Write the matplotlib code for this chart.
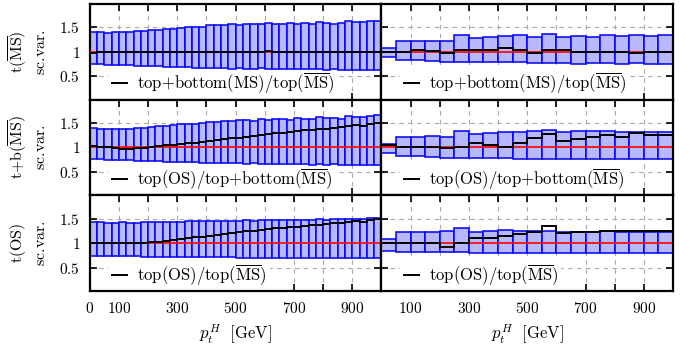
import numpy as np
import matplotlib
matplotlib.use('Agg')
import matplotlib.pyplot as plt
from matplotlib.ticker import FixedLocator, FixedFormatter

plt.rcParams['mathtext.fontset'] = 'cm'
plt.rcParams['font.family'] = 'serif'
plt.rcParams['font.serif'] = ['DejaVu Serif']

# binning
edges_left = np.arange(0, 1001, 25)     # 40 bins
edges_right = np.arange(0, 1001, 50)    # 20 bins

# ---- row 1: t(MSbar) scale variation ----
r1l_up = [1.40, 1.40, 1.39, 1.40, 1.41, 1.40, 1.42, 1.43, 1.44, 1.45, 1.46, 1.47, 1.48, 1.50, 1.50, 1.51, 1.54, 1.55, 1.55, 1.57,
          1.55, 1.56, 1.57, 1.56, 1.58, 1.57, 1.56, 1.59, 1.57, 1.58, 1.57, 1.60, 1.58, 1.57, 1.59, 1.63, 1.60, 1.61, 1.62, 1.63]
r1l_lo = [0.74, 0.74, 0.73, 0.73, 0.72, 0.72, 0.71, 0.71, 0.70, 0.70, 0.69, 0.69, 0.68, 0.68, 0.67, 0.67, 0.67, 0.66, 0.66, 0.65,
          0.66, 0.65, 0.65, 0.66, 0.65, 0.64, 0.65, 0.64, 0.65, 0.64, 0.64, 0.64, 0.63, 0.64, 0.63, 0.63, 0.63, 0.62, 0.63, 0.62]
r1l_c = [0.97, 1.00, 1.00, 1.00, 1.00, 1.00, 1.00, 1.00, 1.00, 1.00, 1.00, 1.00, 1.00, 1.00, 1.00, 1.00, 1.00, 1.00, 1.00, 1.00,
         1.00, 1.00, 1.00, 1.00, 1.01, 1.00, 1.00, 1.00, 1.00, 1.00, 1.00, 1.00, 1.00, 1.00, 1.00, 1.00, 0.99, 1.00, 1.00, 1.00]
r1r_up = [1.08, 1.22, 1.22, 1.23, 1.23, 1.35, 1.29, 1.31, 1.32, 1.34, 1.31, 1.36, 1.31, 1.32, 1.31, 1.35, 1.32, 1.35, 1.32, 1.35]
r1r_lo = [0.90, 0.83, 0.83, 0.82, 0.80, 0.80, 0.78, 0.78, 0.78, 0.78, 0.76, 0.76, 0.76, 0.75, 0.76, 0.76, 0.75, 0.76, 0.75, 0.75]
r1r_c = [1.00, 1.00, 1.03, 1.02, 0.97, 1.03, 1.03, 1.03, 1.07, 1.03, 0.97, 1.03, 1.03, 1.00, 1.00, 1.00, 1.00, 0.98, 1.00, 1.00]

# ---- row 2: t+b(MSbar) scale variation ----
r2l_up = [1.39, 1.38, 1.37, 1.37, 1.38, 1.38, 1.39, 1.40, 1.42, 1.43, 1.44, 1.45, 1.47, 1.48, 1.49, 1.50, 1.52, 1.53, 1.54, 1.55,
          1.56, 1.57, 1.55, 1.58, 1.57, 1.59, 1.58, 1.57, 1.60, 1.58, 1.59, 1.62, 1.60, 1.61, 1.59, 1.64, 1.62, 1.63, 1.65, 1.66]
r2l_lo = [0.76, 0.76, 0.75, 0.75, 0.74, 0.74, 0.73, 0.73, 0.72, 0.72, 0.71, 0.71, 0.70, 0.70, 0.70, 0.69, 0.69, 0.69, 0.68, 0.68,
          0.68, 0.67, 0.68, 0.67, 0.67, 0.66, 0.67, 0.66, 0.66, 0.66, 0.65, 0.66, 0.65, 0.66, 0.65, 0.65, 0.64, 0.65, 0.64, 0.65]
r2l_c = [1.03, 1.01, 1.00, 0.98, 0.97, 0.97, 0.98, 0.99, 1.00, 1.02, 1.04, 1.06, 1.07, 1.09, 1.10, 1.12, 1.14, 1.15, 1.17, 1.19,
         1.20, 1.22, 1.23, 1.25, 1.27, 1.29, 1.30, 1.31, 1.33, 1.35, 1.36, 1.37, 1.38, 1.40, 1.41, 1.43, 1.45, 1.44, 1.47, 1.50]
r2r_up = [1.08, 1.21, 1.21, 1.23, 1.22, 1.33, 1.27, 1.29, 1.32, 1.32, 1.33, 1.36, 1.32, 1.33, 1.33, 1.33, 1.31, 1.32, 1.32, 1.32]
r2r_lo = [0.88, 0.83, 0.82, 0.81, 0.79, 0.79, 0.78, 0.78, 0.78, 0.76, 0.76, 0.76, 0.76, 0.76, 0.76, 0.76, 0.76, 0.76, 0.76, 0.76]
r2r_c = [1.05, 1.00, 1.00, 1.00, 0.98, 1.00, 1.10, 1.05, 1.01, 1.10, 1.19, 1.27, 1.14, 1.18, 1.21, 1.25, 1.22, 1.29, 1.26, 1.26]

# ---- row 3: t(OS) scale variation ----
r3l_up = [1.43, 1.43, 1.42, 1.42, 1.43, 1.42, 1.42, 1.43, 1.43, 1.43, 1.44, 1.44, 1.44, 1.45, 1.45, 1.45, 1.45, 1.46, 1.46, 1.46,
          1.46, 1.47, 1.46, 1.47, 1.47, 1.47, 1.48, 1.47, 1.48, 1.48, 1.48, 1.49, 1.48, 1.49, 1.49, 1.50, 1.50, 1.50, 1.51, 1.51]
r3l_lo = [0.74, 0.74, 0.74, 0.73, 0.73, 0.73, 0.73, 0.72, 0.72, 0.72, 0.72, 0.72, 0.72, 0.71, 0.71, 0.71, 0.71, 0.71, 0.71, 0.71,
          0.70, 0.70, 0.70, 0.70, 0.70, 0.70, 0.70, 0.70, 0.70, 0.70, 0.69, 0.69, 0.69, 0.69, 0.69, 0.69, 0.69, 0.69, 0.69, 0.69]
r3l_c = [1.00, 1.00, 1.00, 1.00, 1.00, 1.00, 1.00, 1.01, 1.02, 1.03, 1.05, 1.07, 1.08, 1.10, 1.12, 1.13, 1.15, 1.17, 1.19, 1.21,
         1.22, 1.24, 1.25, 1.27, 1.28, 1.30, 1.31, 1.33, 1.34, 1.35, 1.37, 1.38, 1.39, 1.41, 1.42, 1.43, 1.45, 1.44, 1.48, 1.50]
r3r_up = [1.09, 1.22, 1.22, 1.22, 1.25, 1.32, 1.22, 1.24, 1.26, 1.25, 1.25, 1.24, 1.22, 1.22, 1.22, 1.24, 1.22, 1.22, 1.22, 1.23]
r3r_lo = [0.84, 0.82, 0.81, 0.81, 0.81, 0.81, 0.80, 0.80, 0.80, 0.80, 0.80, 0.80, 0.80, 0.80, 0.80, 0.80, 0.80, 0.80, 0.80, 0.80]
r3r_c = [1.01, 1.01, 1.01, 1.00, 0.93, 1.01, 1.11, 1.11, 1.15, 1.18, 1.22, 1.35, 1.20, 1.22, 1.23, 1.25, 1.25, 1.24, 1.25, 1.25]

row_labels = [r'$\mathrm{t}(\overline{\mathrm{MS}})$', r'$\mathrm{t{+}b}(\overline{\mathrm{MS}})$', r'$\mathrm{t(OS)}$']
legend_labels = [r'$\mathrm{top{+}bottom(MS)/top}(\overline{\mathrm{MS}})$',
                 r'$\mathrm{top(OS)/top{+}bottom}(\overline{\mathrm{MS}})$',
                 r'$\mathrm{top(OS)/top}(\overline{\mathrm{MS}})$']

rows = [((r1l_up, r1l_lo, r1l_c), (r1r_up, r1r_lo, r1r_c)),
        ((r2l_up, r2l_lo, r2l_c), (r2r_up, r2r_lo, r2r_c)),
        ((r3l_up, r3l_lo, r3l_c), (r3r_up, r3r_lo, r3r_c))]

fig, axes = plt.subplots(3, 2, figsize=(6.91, 3.54), dpi=100)
fig.subplots_adjust(left=0.130, right=0.974, top=0.989, bottom=0.178, wspace=0, hspace=0)

xt = np.arange(0, 1001, 100)
for i in range(3):
    for j in range(2):
        ax = axes[i, j]
        up, lo, c = rows[i][j]
        edges = edges_left if j == 0 else edges_right
        up = np.asarray(up); lo = np.asarray(lo); c = np.asarray(c)
        ax.set_axisbelow(True)
        ax.bar(edges[:-1], up - lo, width=np.diff(edges), bottom=lo, align='edge',
               facecolor='#b8b8ff', edgecolor='#0000ff', linewidth=1.1, zorder=2)
        ax.axhline(1.0, color='#ff0000', lw=1.2, zorder=3)
        ax.stairs(c, edges, color='black', lw=1.4, zorder=4, label=legend_labels[i])
        ax.set_xlim(0, 1000)
        ax.set_ylim(0.02, 1.98)
        ax.xaxis.set_major_locator(FixedLocator(xt))
        ax.yaxis.set_major_locator(FixedLocator([0.5, 1.0, 1.5]))
        ax.grid(True, color='#aaaaaa', ls=(0, (4, 4)), lw=0.8)
        ax.tick_params(direction='in', top=True, right=True, length=5, width=1.2,
                       labelsize=11, pad=7)
        for s in ax.spines.values():
            s.set_linewidth(1.6)
        if j == 0:
            ax.yaxis.set_major_formatter(FixedFormatter(['$0.5$', '$1$', '$1.5$']))
            ax.text(-0.247, 0.5, row_labels[i], transform=ax.transAxes, rotation=90,
                    ha='center', va='center', fontsize=11.5)
            ax.text(-0.17, 0.5, r'$\mathrm{sc.\!var.}$', transform=ax.transAxes, rotation=90,
                    ha='center', va='center', fontsize=11.5)
        else:
            ax.set_yticklabels([])
        if i == 2:
            if j == 0:
                labs = ['$0$', '$100$', '', '$300$', '', '$500$', '', '$700$', '', '$900$', '']
            else:
                labs = ['', '$100$', '', '$300$', '', '$500$', '', '$700$', '', '$900$', '']
            ax.xaxis.set_major_formatter(FixedFormatter(labs))
            ax.set_xlabel(r'$p_t^H\ \ [\mathrm{GeV}]$', fontsize=12, labelpad=5)
        else:
            ax.set_xticklabels([])
        leg = ax.legend(loc='lower left', bbox_to_anchor=(0.065, 0.0), fontsize=12,
                        handlelength=0.9, handletextpad=0.6, borderpad=0.2,
                        borderaxespad=0.0, frameon=True, fancybox=False)
        leg.get_frame().set_facecolor('white')
        leg.get_frame().set_edgecolor('none')
        leg.get_frame().set_alpha(1.0)
        leg.set_zorder(1.5)

fig.savefig('out.png', dpi=100)
